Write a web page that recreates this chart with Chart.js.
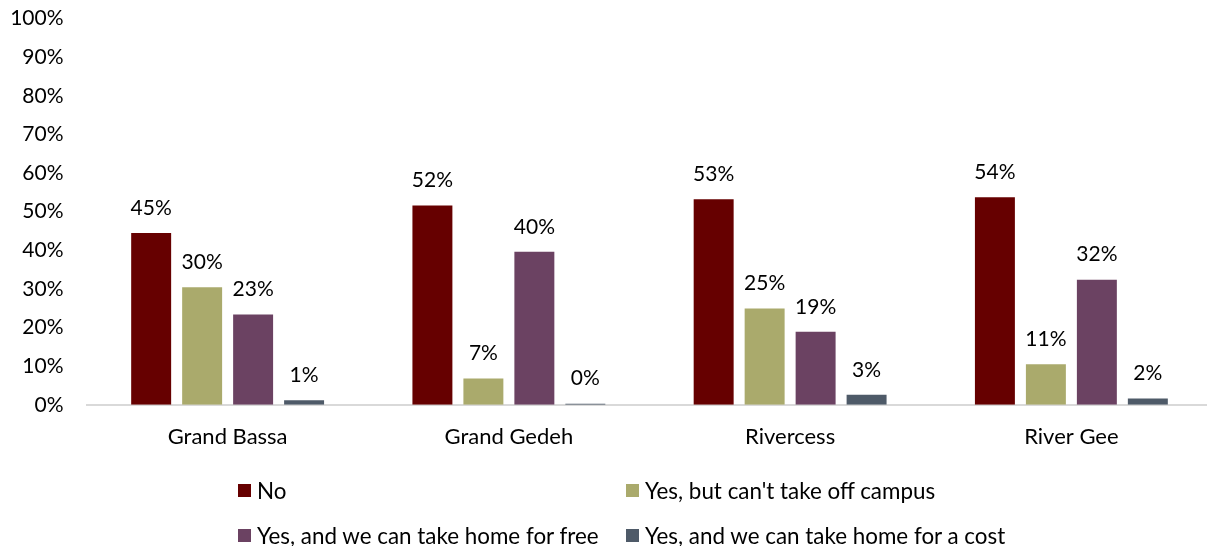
<!DOCTYPE html>
<html>
<head>
<meta charset="utf-8">
<script src="https://cdn.jsdelivr.net/npm/chart.js@4.4.1/dist/chart.umd.min.js"></script>
<style>
  html, body { margin: 0; padding: 0; background: #fff; overflow: hidden; }
  #wrap { position: relative; width: 1215px; height: 546px; }
  #legend { position: absolute; left: 0; top: 0; font-family: Lato, sans-serif; font-size: 22.4px; color: #000; }
  .item { position: absolute; display: flex; align-items: center; white-space: nowrap; }
  .box { width: 13px; height: 13px; margin-right: 6px; }
</style>
</head>
<body>
<div id="wrap">
  <canvas id="chart" width="1215" height="546"></canvas>
  <div id="legend"></div>
</div>
<script>
// Counties on the x axis
const counties = ["Grand Bassa", "Grand Gedeh", "Rivercess", "River Gee"];

// Share of responses per answer, in percent
const noValues = [44.5, 51.6, 53.2, 53.7];
const campusOnly = [30.4, 6.8, 24.9, 10.5];
const homeFree = [23.4, 39.6, 18.9, 32.4];
const homeCost = [1.2, 0.3, 2.6, 1.6];

const seriesNames = [
  "No",
  "Yes, but can't take off campus",
  "Yes, and we can take home for free",
  "Yes, and we can take home for a cost",
];
const seriesColors = ["#660000", "#aaaa6c", "#6b4262", "#4e5a68"];

const yTicks = [0, 10, 20, 30, 40, 50, 60, 70, 80, 90, 100];

const fontFamily = "Lato, sans-serif";

// Percent labels above each bar
const barLabels = {
  id: "barLabels",
  afterDatasetsDraw(chart) {
    const ctx = chart.ctx;
    ctx.save();
    ctx.font = "21px " + fontFamily;
    ctx.fillStyle = "#000";
    ctx.textAlign = "center";
    ctx.textBaseline = "middle";
    chart.data.datasets.forEach((ds, i) => {
      chart.getDatasetMeta(i).data.forEach((bar, j) => {
        ctx.fillText(Math.round(ds.data[j]) + "%", bar.x, bar.y - 25);
      });
    });
    ctx.restore();
  },
};

const datasets = [noValues, campusOnly, homeFree, homeCost].map((data, i) => ({
  label: seriesNames[i],
  data: data,
  backgroundColor: seriesColors[i],
  borderWidth: 0,
  barPercentage: 0.784,
  categoryPercentage: 0.725,
}));

new Chart(document.getElementById("chart"), {
  type: "bar",
  data: { labels: counties, datasets: datasets },
  plugins: [barLabels],
  options: {
    responsive: false,
    animation: false,
    devicePixelRatio: 1,
    layout: { padding: { top: 18.5, right: 3, bottom: 76.8, left: 0 } },
    plugins: { legend: { display: false }, tooltip: { enabled: false } },
    scales: {
      x: {
        grid: { display: false, drawTicks: false },
        border: { color: "#d9d9d9", width: 2 },
        ticks: { color: "#000", font: { family: fontFamily, size: 22 }, padding: 19 },
      },
      y: {
        min: 0,
        max: 100,
        afterFit: (scale) => {
          scale.width = 87;
          scale.paddingTop = 0;
          scale.paddingBottom = 0;
        },
        afterBuildTicks: (scale) => { scale.ticks = yTicks.map((v) => ({ value: v })); },
        grid: { display: false, drawTicks: false },
        border: { display: false },
        ticks: {
          color: "#000",
          font: { family: fontFamily, size: 21 },
          padding: 23.5,
          callback: (v) => v + "%",
        },
      },
    },
  },
});

// Two-column legend below the plot
const legendPos = [
  { left: 238, top: 490 },
  { left: 626, top: 490 },
  { left: 238, top: 535 },
  { left: 626, top: 535 },
];
const legend = document.getElementById("legend");
seriesNames.forEach((name, i) => {
  const item = document.createElement("div");
  item.className = "item";
  item.style.left = legendPos[i].left + "px";
  item.style.top = legendPos[i].top - 14 + "px";
  item.style.height = "28px";
  item.innerHTML = `<span class="box" style="background:${seriesColors[i]}"></span><span>${name}</span>`;
  legend.appendChild(item);
});
</script>
</body>
</html>
